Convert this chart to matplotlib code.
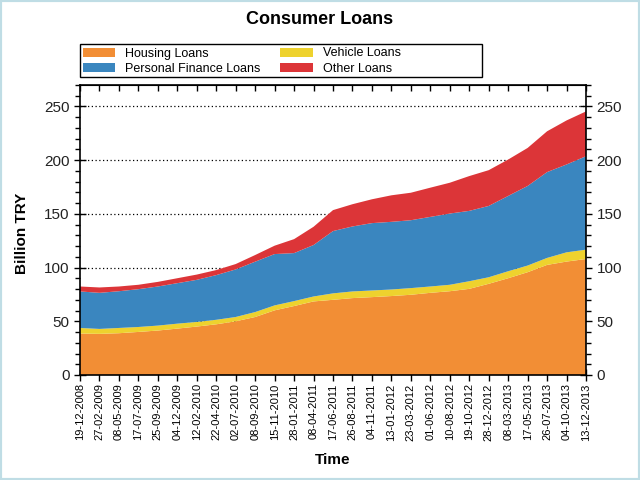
import numpy as np
import matplotlib
matplotlib.use("Agg")
import matplotlib.pyplot as plt
from matplotlib.patches import Rectangle
from matplotlib.ticker import MultipleLocator

plt.rcParams['font.family'] = ['Liberation Sans', 'DejaVu Sans']

# labelled weeks (every 10th weekly observation)
dates = ['19-12-2008', '27-02-2009', '08-05-2009', '17-07-2009', '25-09-2009',
         '04-12-2009', '12-02-2010', '22-04-2010', '02-07-2010', '08-09-2010',
         '15-11-2010', '28-01-2011', '08-04-2011', '17-06-2011', '26-08-2011',
         '04-11-2011', '13-01-2012', '23-03-2012', '01-06-2012', '10-08-2012',
         '19-10-2012', '28-12-2012', '08-03-2013', '17-05-2013', '26-07-2013',
         '04-10-2013', '13-12-2013']
week_idx = np.arange(len(dates)) * 10

# billion TRY
housing = [38.6, 38.3, 38.9, 40.1, 41.4, 43.2, 45.1, 47.2, 50.0, 54.0,
           60.2, 64.2, 68.5, 70.0, 71.6, 72.5, 73.5, 74.7, 76.5, 78.0,
           80.2, 84.9, 90.1, 95.7, 102.5, 105.6, 108.0]
vehicle = [5.2, 4.6, 4.9, 4.6, 4.6, 4.6, 4.3, 4.2, 4.0, 4.6,
           4.6, 4.6, 4.6, 6.0, 6.2, 6.2, 6.1, 6.2, 5.9, 6.0,
           7.1, 6.1, 6.5, 6.2, 6.5, 8.6, 8.7]
personal = [34.0, 33.6, 34.2, 35.2, 36.4, 37.7, 39.2, 41.6, 44.3, 46.9,
            47.8, 44.7, 47.9, 58.0, 60.5, 62.7, 63.0, 63.2, 64.8, 66.3,
            65.5, 66.4, 70.1, 74.1, 79.9, 81.8, 87.0]
other = [4.6, 5.0, 4.4, 4.1, 4.3, 4.6, 4.9, 4.7, 5.0, 6.2,
         7.8, 13.0, 17.0, 19.5, 20.7, 22.2, 24.7, 25.6, 27.2, 28.7,
         32.4, 33.3, 33.9, 35.4, 38.0, 41.0, 41.7]

colors = ['#F28E35', '#EED22E', '#3A86BF', '#DC3538']

fig = plt.figure(figsize=(6.4, 4.8), dpi=100)
ax = fig.add_axes([80/640, 1-375/480, 506/640, 290/480])

polys = ax.stackplot(week_idx, housing, vehicle, personal, other,
                     colors=colors, linewidth=0, zorder=2)

ax.set_xlim(0, 260)
ax.set_ylim(0, 270)
ax.yaxis.set_major_locator(MultipleLocator(50))
ax.yaxis.set_minor_locator(MultipleLocator(10))
ax.set_xticks(week_idx)
ax.set_xticklabels(dates, rotation=90, fontsize=8)

ax.yaxis.grid(True, which='major', linestyle=(0, (1, 2)), color='black', lw=0.9)
ax.set_axisbelow(True)

ax.tick_params(axis='y', which='major', direction='inout', length=8,
               left=True, right=True, labelleft=True, labelright=True,
               labelsize=11, labelcolor='#222222', width=1)
ax.tick_params(axis='y', which='minor', direction='out', length=3.5,
               left=True, right=True, width=1)
ax.tick_params(axis='x', which='major', direction='inout', length=8, width=1,
               bottom=True, top=False, pad=2)

top = ax.secondary_xaxis('top')
top.set_xticks(week_idx)
top.tick_params(direction='in', length=4, labeltop=False, width=1)

for s in ax.spines.values():
    s.set_linewidth(1.2)

fig.text(0.5, 1-20/480, 'Consumer Loans', ha='center', va='center',
         fontsize=13, fontweight='bold')
fig.text(22/640, 1-233/480, 'Billion TRY', ha='center', va='center',
         rotation=90, fontsize=11, fontweight='bold')
fig.text(333/640, 1-460/480, 'Time', ha='center', va='center',
         fontsize=11, fontweight='bold')

# legend with a fixed-width frame
order = [0, 2, 1, 3]
names = ['Housing Loans', 'Vehicle Loans', 'Personal Finance Loans', 'Other Loans']
fig.legend([polys[i] for i in order], [names[i] for i in order], ncol=2,
           loc='upper left', bbox_to_anchor=(80/640, 1-45/480), frameon=False,
           fontsize=9, handlelength=2.6, handleheight=0.7, handletextpad=0.8,
           columnspacing=1.6, labelspacing=0.25, borderpad=0.2, borderaxespad=0)
fig.patches.append(Rectangle((80/640, 1-77/480), 402/640, 33/480,
                             transform=fig.transFigure, fill=False,
                             edgecolor='black', lw=1))

# light blue border around the image
fig.patches.append(Rectangle((0, 0), 1, 1, transform=fig.transFigure,
                             fill=False, edgecolor='#BFDDE5', lw=3))

fig.savefig('out.png', dpi=100)
